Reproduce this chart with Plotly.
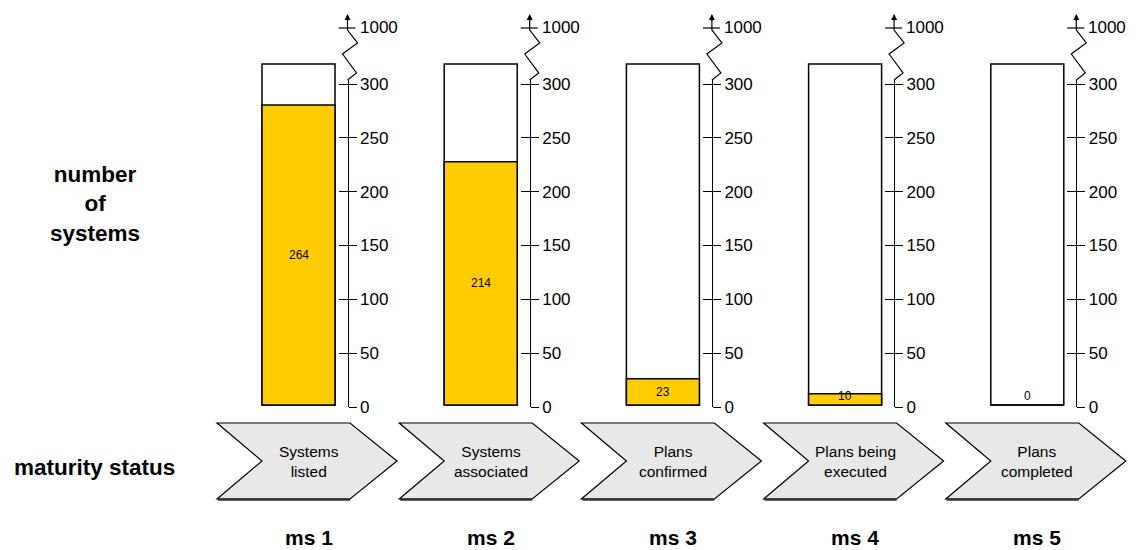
import plotly.graph_objects as go

# ---------------- data ----------------
categories = ["ms 1", "ms 2", "ms 3", "ms 4", "ms 5"]
stage_labels = ["Systems<br>listed", "Systems<br>associated", "Plans<br>confirmed",
                "Plans being<br>executed", "Plans<br>completed"]
values = [264, 214, 23, 10, 0]
box_max = 300
tick_vals = [0, 50, 100, 150, 200, 250, 300]
break_label = "1000"

# ---------------- layout helpers ----------------
W, H = 1141, 550
FONT = "Liberation Sans, Arial, Helvetica, sans-serif"
center0 = 298.5      # px centre of first bar
spacing = 182.2      # px between columns
bar_w_px = 73

def px_x(p):
    return p / W

def px_y(p):
    return 1 - p / H

# bar y scale: 0 at y=405px, 300 at y=64px
bar_zero, bar_top = 405, 64
upp = box_max / (bar_zero - bar_top)
bar_range = [-(H - bar_zero) * upp, box_max + bar_top * upp]

# axis scale: 0 at 407, 300 at 84, line ends at 80
ax_zero, ax_300, ax_end = 407, 84, 80
upp2 = 300 / (ax_zero - ax_300)
ax_range = [0, 300 + (ax_300 - ax_end) * upp2]
ax_domain = [px_y(ax_zero), px_y(ax_end)]

fig = go.Figure()

fig.add_trace(go.Bar(
    x=categories, y=[box_max] * len(categories),
    marker=dict(color="white", line=dict(color="black", width=1.5)),
    width=bar_w_px / spacing, hoverinfo="skip", showlegend=False))
fig.add_trace(go.Bar(
    x=categories, y=values,
    marker=dict(color="#FFCC00", line=dict(color="black", width=1.5)),
    width=bar_w_px / spacing, showlegend=False))

# value labels in the bars
for c, v in zip(categories, values):
    fig.add_annotation(x=c, y=max(v / 2, 8), xref="x", yref="y", text=str(v),
                       showarrow=False, font=dict(size=12, color="black", family=FONT))

layout_axes = {}
shapes = []
annotations = []
for i, (c, lab) in enumerate(zip(categories, stage_labels)):
    cx = center0 + i * spacing
    a = cx + 49  # axis x in px
    n1 = 2 + 2 * i
    n2 = n1 + 1
    layout_axes[f"yaxis{n1}"] = dict(
        anchor="free", position=px_x(a), side="right", automargin=False,
        domain=ax_domain, range=ax_range, tickvals=tick_vals, fixedrange=True,
        ticks="outside", ticklen=8, tickwidth=1.2, tickcolor="black",
        showline=True, linecolor="black", linewidth=1.2, showgrid=False,
        zeroline=False, tickfont=dict(size=17, color="black", family=FONT))
    layout_axes[f"yaxis{n2}"] = dict(
        anchor="free", position=px_x(a), side="right", automargin=False,
        domain=ax_domain, range=ax_range, tickvals=tick_vals, fixedrange=True,
        ticks="inside", ticklen=9, tickwidth=1.2, tickcolor="black",
        showline=False, showticklabels=False, showgrid=False, zeroline=False)
    # invisible traces so the axes get drawn
    for n in (n1, n2):
        fig.add_trace(go.Scatter(x=[c], y=[0], yaxis=f"y{n}", mode="markers",
                                 marker=dict(opacity=0), hoverinfo="skip",
                                 showlegend=False))
    # zigzag break
    zz = [(a, ax_end), (a + 9, 73), (a - 5, 54), (a + 10, 43), (a, 30), (a, 16)]
    path = "M " + " L ".join(f"{px_x(x)},{px_y(y)}" for x, y in zz)
    shapes.append(dict(type="path", xref="paper", yref="paper", path=path,
                       line=dict(color="black", width=1.2)))
    # 1000 tick
    shapes.append(dict(type="line", xref="paper", yref="paper",
                       x0=px_x(a - 9), x1=px_x(a + 8), y0=px_y(28), y1=px_y(28),
                       line=dict(color="black", width=1.2)))
    annotations.append(dict(xref="paper", yref="paper", x=px_x(a), y=px_y(14),
                            ax=0, ay=8, axref="pixel", ayref="pixel",
                            showarrow=True, arrowhead=2, arrowsize=1, arrowwidth=1.2,
                            arrowcolor="black", text=""))
    annotations.append(dict(xref="paper", yref="paper", x=px_x(a + 10), y=px_y(28),
                            xanchor="left", yanchor="middle", showarrow=False,
                            text=break_label, font=dict(size=17, color="black", family=FONT)))
    # chevron
    L, N, R, T = cx - 81.5, cx - 36.5, cx + 51.5, cx + 98.5
    top, mid, bot = 423, 461, 499
    pts = [(L, top), (R, top), (T, mid), (R, bot), (L, bot), (N, mid)]
    path = "M " + " L ".join(f"{px_x(x)},{px_y(y)}" for x, y in pts) + " Z"
    shapes.append(dict(type="path", xref="paper", yref="paper", path=path,
                       fillcolor="#E8E8E8", line=dict(color="black", width=1.2)))
    shapes.append(dict(type="line", xref="paper", yref="paper",
                       x0=px_x(L + 1), x1=px_x(R), y0=px_y(bot + 0.5), y1=px_y(bot + 0.5),
                       line=dict(color="#333333", width=2.5)))
    annotations.append(dict(xref="paper", yref="paper", x=px_x(cx + 10), y=px_y(461),
                            xanchor="center", yanchor="middle", showarrow=False,
                            text=lab, font=dict(size=15.5, color="black", family=FONT)))
    annotations.append(dict(xref="paper", yref="paper", x=px_x(cx + 10), y=px_y(537),
                            xanchor="center", yanchor="middle", showarrow=False,
                            text=f"<b>{c}</b>", font=dict(size=21, color="black", family=FONT)))

annotations.append(dict(xref="paper", yref="paper", x=px_x(95), y=px_y(204),
                        xanchor="center", yanchor="middle", showarrow=False,
                        text="<b>number<br>of<br>systems</b>",
                        font=dict(size=22.5, color="black", family=FONT)))
annotations.append(dict(xref="paper", yref="paper", x=px_x(94), y=px_y(467),
                        xanchor="center", yanchor="middle", showarrow=False,
                        text="<b>maturity status</b>",
                        font=dict(size=22.5, color="black", family=FONT)))

fig.update_layout(
    width=W, height=H, margin=dict(l=0, r=0, t=0, b=0, pad=0, autoexpand=False),
    paper_bgcolor="white", plot_bgcolor="rgba(0,0,0,0)",
    barmode="overlay", showlegend=False,
    xaxis=dict(visible=False, range=[-center0 / spacing, (W - center0) / spacing],
               domain=[0, 1], fixedrange=True, automargin=False),
    yaxis=dict(visible=False, range=bar_range, domain=[0, 1], fixedrange=True,
               automargin=False),
    shapes=shapes,
    **layout_axes,
)
for ann in annotations:
    fig.add_annotation(**ann)

fig.write_html("out.html", config={"displayModeBar": False},
               post_script="document.body.style.margin='0';document.body.style.overflow='hidden';")
